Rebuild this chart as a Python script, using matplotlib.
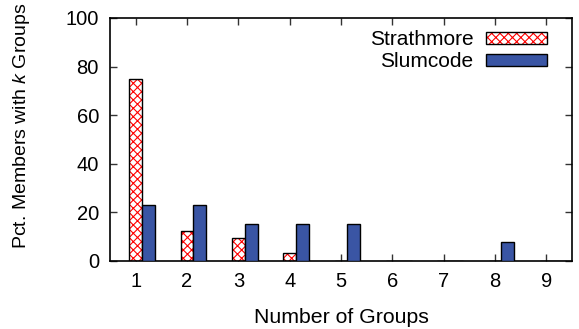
import matplotlib
matplotlib.use("Agg")
import matplotlib.pyplot as plt
import numpy as np
from matplotlib.patches import Patch
from matplotlib.legend_handler import HandlerTuple

plt.rcParams['font.family'] = ['Liberation Sans', 'DejaVu Sans']
plt.rcParams['mathtext.fontset'] = 'custom'
plt.rcParams['mathtext.it'] = 'Liberation Sans:italic'
plt.rcParams['hatch.linewidth'] = 0.8

groups = [1, 2, 3, 4, 5, 6, 7, 8, 9]
strathmore = [75.0, 12.5, 9.4, 3.1, 0, 0, 0, 0, 0]
slumcode = [23.1, 23.1, 15.4, 15.4, 15.4, 0, 0, 7.7, 0]
labels = ["Strathmore", "Slumcode"]

fig = plt.figure(figsize=(5.79, 3.29), dpi=100)
ax = fig.add_axes([110/579, 1-261/329, (572-110)/579, (261-18)/329])

x = np.array(groups, dtype=float)
w = 0.25
blue = '#3a55a4'
ax.bar(x, strathmore, width=w, facecolor='white', edgecolor='red', hatch='xxxx', linewidth=0, zorder=2)
ax.bar(x, strathmore, width=w, fill=False, edgecolor='black', linewidth=1.0, zorder=3)
ax.bar(x + w, slumcode, width=w, facecolor=blue, edgecolor='black', linewidth=1.0, zorder=3)

ax.set_xlim(0.5, 9.5)
ax.set_ylim(0, 100)
ax.set_xticks(groups)
ax.set_yticks([0, 20, 40, 60, 80, 100])
ax.tick_params(direction='in', top=True, right=True, length=5, width=1, labelsize=14.5, colors='#333333', labelcolor='black', pad=8)
for s in ax.spines.values():
    s.set_linewidth(1.2)
ax.set_xlabel("Number of Groups", fontsize=15.3, labelpad=12)
fig.text(22/579, 1-126/329, "Pct. Members with $k$ Groups", fontsize=14, rotation=90,
         ha='center', va='center')

h1 = (Patch(facecolor='white', edgecolor='red', hatch='xxxx', linewidth=0),
      Patch(fill=False, edgecolor='black', linewidth=1.0))
h2 = Patch(facecolor=blue, edgecolor='black', linewidth=1.0)
leg = ax.legend([h1, h2], labels, loc='upper right', frameon=False, fontsize=15,
                handlelength=2.9, handleheight=0.5, markerfirst=False,
                handler_map={tuple: HandlerTuple(ndivide=1)},
                borderaxespad=0.0, labelspacing=0.15, handletextpad=0.6,
                bbox_to_anchor=(0.963, 0.985))

fig.savefig("out.png", dpi=100)
